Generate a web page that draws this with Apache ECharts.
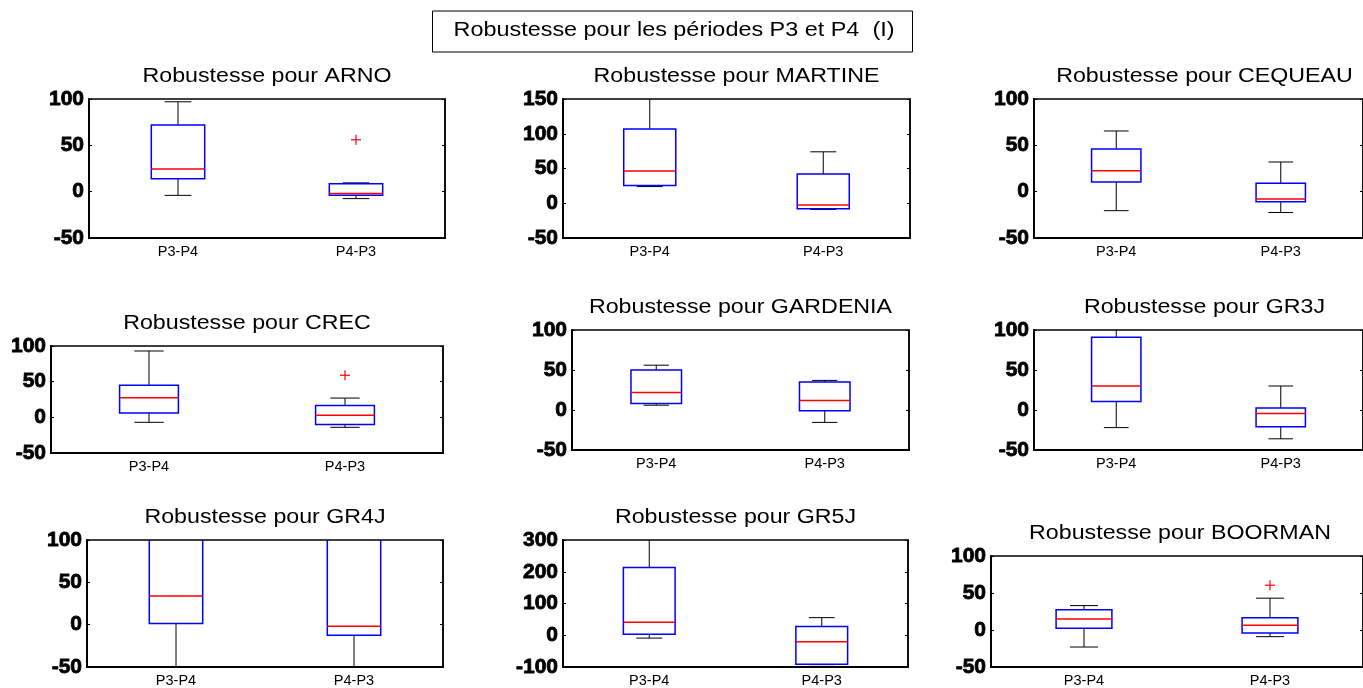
<!DOCTYPE html>
<html>
<head>
<meta charset="utf-8">
<script src="https://cdn.jsdelivr.net/npm/echarts@6/dist/echarts.min.js"></script>
<style>
  html, body { margin: 0; padding: 0; background: #fff; }
  #chart { width: 1363px; height: 688px; }
</style>
</head>
<body>
<div id="chart"></div>
<script>
// ---- data -------------------------------------------------------------
const mainTitle = 'Robustesse pour les périodes P3 et P4  (I)';
const models = ['ARNO', 'MARTINE', 'CEQUEAU', 'CREC', 'GARDENIA', 'GR3J', 'GR4J', 'GR5J', 'BOORMAN'];
const categories = ['P3-P4', 'P4-P3'];

// box statistics per category: [lower whisker, Q1, median, Q3, upper whisker]
const arno     = [[-4, 14, 24.5, 72, 97],      [-7.5, -4, -2, 8.5, 9.5]];
const martine  = [[24, 25.5, 46.5, 107, 155],  [-9, -8, -2.5, 42, 74]];
const cequeau  = [[-20.5, 10.5, 22.5, 46, 65.5], [-22.5, -11, -8, 9, 32]];
const crec     = [[-7, 6, 27.5, 45, 93],       [-14, -10, 3, 16.5, 27]];
const gardenia = [[6, 8, 22, 50, 56],          [-15.5, -1, 12, 35, 37]];
const gr3j     = [[-22, 10.5, 30, 91, 105],    [-36, -21, -4.5, 2.5, 30]];
const gr4j     = [[-70, 1.5, 34, 120, 200],    [-70, -12.5, -2, 120, 200]];
const gr5j     = [[-9, 3.5, 41, 213, 320],     [-92.5, -91.5, -20.5, 27.5, 55.5]];
const boorman  = [[-23, 2.5, 15, 27.5, 33],    [-9, -4, 6.5, 16.5, 43]];
const boxStats = [arno, martine, cequeau, crec, gardenia, gr3j, gr4j, gr5j, boorman];

// outliers per category
const arnoOutliers    = [[], [56]];
const crecOutliers    = [[], [59]];
const boormanOutliers = [[], [60.5]];
const outliers = [arnoOutliers, [[], []], [[], []], crecOutliers, [[], []], [[], []], [[], []], [[], []], boormanOutliers];

// y axis ticks per panel: [min, max, step]
const yTicks = [
  [-50, 100, 50], [-50, 150, 50], [-50, 100, 50],
  [-50, 100, 50], [-50, 100, 50], [-50, 100, 50],
  [-50, 100, 50], [-100, 300, 100], [-50, 100, 50]
];

// ---- layout (pixels): left, top, width, height of each plot area ------
const layout = [
  [89, 99, 356, 139], [563, 99, 347, 139], [1034, 99, 341, 139],
  [51, 346, 392, 107], [572, 330, 337, 120], [1034, 330, 341, 120],
  [87, 540, 356, 128], [563, 540, 345, 128], [991, 556, 378, 116]
];

const BLUE = '#0000ff', RED = '#ff0000', BLACK = '#000000';
const textFont = "'Liberation Sans', Arial, sans-serif";

function renderBox(params, api) {
  const c = api.value(0);
  const lo = api.coord([c, api.value(1)]);
  const q1 = api.coord([c, api.value(2)]);
  const md = api.coord([c, api.value(3)]);
  const q3 = api.coord([c, api.value(4)]);
  const hi = api.coord([c, api.value(5)]);
  const w = api.size([1, 0])[0] * 0.3;
  const cx = lo[0];
  const half = w / 2, cap = w / 4;
  const black = { stroke: BLACK, lineWidth: 1, fill: null };
  return {
    type: 'group',
    children: [
      { type: 'line', shape: { x1: cx, y1: q3[1], x2: cx, y2: hi[1] }, style: black },
      { type: 'line', shape: { x1: cx, y1: q1[1], x2: cx, y2: lo[1] }, style: black },
      { type: 'line', shape: { x1: cx - cap, y1: hi[1], x2: cx + cap, y2: hi[1] }, style: black },
      { type: 'line', shape: { x1: cx - cap, y1: lo[1], x2: cx + cap, y2: lo[1] }, style: black },
      { type: 'rect', shape: { x: cx - half, y: q3[1], width: w, height: q1[1] - q3[1] },
        style: { stroke: BLUE, lineWidth: 1.5, fill: null } },
      { type: 'line', shape: { x1: cx - half, y1: md[1], x2: cx + half, y2: md[1] },
        style: { stroke: RED, lineWidth: 1.5 } }
    ]
  };
}

function renderPlus(params, api) {
  const p = api.coord([api.value(0), api.value(1)]);
  const s = 5;
  const st = { stroke: RED, lineWidth: 1.2 };
  return {
    type: 'group',
    children: [
      { type: 'line', shape: { x1: p[0] - s, y1: p[1], x2: p[0] + s, y2: p[1] }, style: st },
      { type: 'line', shape: { x1: p[0], y1: p[1] - s, x2: p[0], y2: p[1] + s }, style: st }
    ]
  };
}

const grid = [], xAxis = [], yAxis = [], series = [], graphic = [];

// main title in its framed box
graphic.push({ type: 'rect', shape: { x: 432.5, y: 11, width: 480, height: 41 },
  style: { stroke: BLACK, lineWidth: 1, fill: '#fff' } });
graphic.push({ type: 'text', x: 674, y: 31, scaleX: 1.2,
  style: { text: mainTitle, fontSize: 19.5, fontFamily: textFont, fill: BLACK, align: 'center', verticalAlign: 'middle' } });

models.forEach((name, i) => {
  const [l, t, w, h] = layout[i];
  const [ymin, ymax, ystep] = yTicks[i];
  grid.push({ left: l, top: t, width: w, height: h, show: true, borderColor: BLACK, borderWidth: 1.5 });
  xAxis.push({
    gridIndex: i, type: 'category', data: categories, boundaryGap: true,
    axisLine: { onZero: false, lineStyle: { color: BLACK, width: 2 } },
    axisTick: { show: false },
    axisLabel: { color: BLACK, fontSize: 14.5, fontFamily: textFont, margin: 6 },
    splitLine: { show: false }
  });
  yAxis.push({
    gridIndex: i, type: 'value', min: ymin, max: ymax, interval: ystep,
    axisLine: { show: true, onZero: false, lineStyle: { color: BLACK, width: 2 } },
    axisTick: { show: true, inside: true, length: 3, lineStyle: { color: BLACK } },
    axisLabel: { color: BLACK, fontSize: 21, fontWeight: 'bold', fontFamily: textFont, margin: 5,
      textBorderColor: BLACK, textBorderWidth: 0.8 },
    splitLine: { show: false }
  });
  yAxis.push({
    gridIndex: i, type: 'value', position: 'right', min: ymin, max: ymax, interval: ystep,
    axisLine: { show: true, onZero: false, lineStyle: { color: BLACK, width: 1.5 } },
    axisTick: { show: true, inside: true, length: 3, lineStyle: { color: BLACK } },
    axisLabel: { show: false },
    splitLine: { show: false }
  });
  const boxData = boxStats[i].map((s, c) => [c].concat(s));
  series.push({
    type: 'custom', xAxisIndex: i, yAxisIndex: 2 * i, clip: true,
    renderItem: renderBox, data: boxData, silent: true,
    encode: { x: 0, y: [1, 2, 3, 4, 5] }
  });
  const outData = [];
  outliers[i].forEach((vals, c) => vals.forEach(v => outData.push([c, v])));
  if (outData.length) {
    series.push({
      type: 'custom', xAxisIndex: i, yAxisIndex: 2 * i, clip: true,
      renderItem: renderPlus, data: outData, silent: true,
      encode: { x: 0, y: 1 }
    });
  }
  graphic.push({ type: 'text', x: l + w / 2, y: t - 22, scaleX: 1.19,
    style: { text: 'Robustesse pour ' + name, fontSize: 19.5, fontFamily: textFont, fill: BLACK,
      align: 'center', verticalAlign: 'middle' } });
});

const chart = echarts.init(document.getElementById('chart'), null, { renderer: 'canvas' });
chart.setOption({
  backgroundColor: '#ffffff',
  animation: false,
  grid: grid,
  xAxis: xAxis,
  yAxis: yAxis,
  series: series,
  graphic: graphic
});
</script>
</body>
</html>
